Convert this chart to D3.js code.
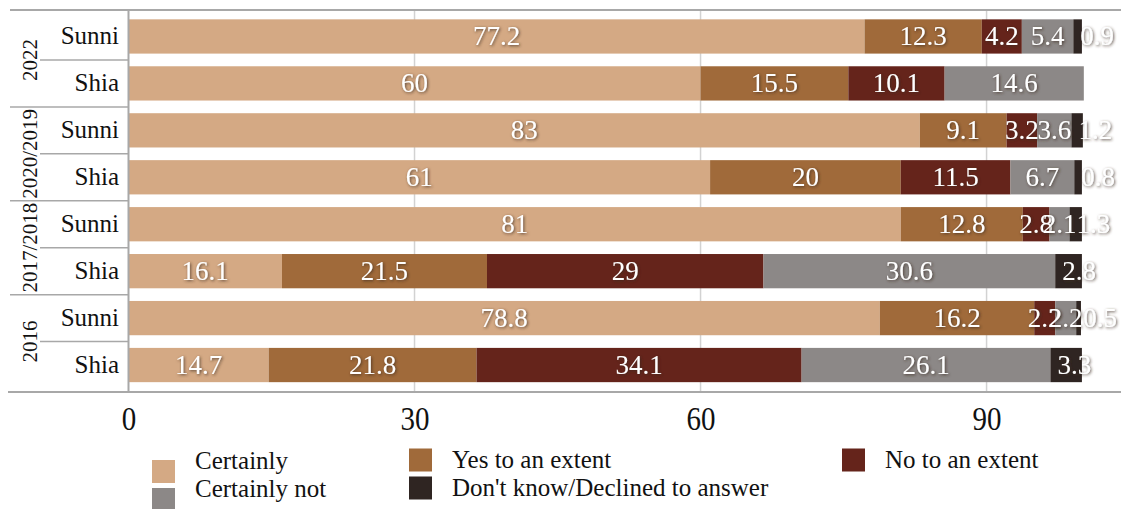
<!DOCTYPE html>
<html>
<head>
<meta charset="utf-8">
<script src="https://cdn.jsdelivr.net/npm/d3@7/dist/d3.min.js"></script>
<style>
  html, body { margin: 0; padding: 0; background: #fff; }
</style>
</head>
<body>
<svg id="chart" width="1121" height="509"></svg>
<script>
// Survey periods and respondent groups (top to bottom)
const periods = ["2022", "2020/2019", "2017/2018", "2016"];
const sects = ["Sunni", "Shia"];

// Answer categories, stacked left to right
const seriesNames = ["Certainly", "Yes to an extent", "No to an extent", "Certainly not", "Don't know/Declined to answer"];
const seriesColors = ["#d4a984", "#a06a3a", "#65241b", "#8c8887", "#2f2522"];

// Percentages per row: 2022 Sunni, 2022 Shia, 2020/2019 Sunni, ... 2016 Shia
const certainly    = [77.2, 60,   83,  61,   81,  16.1, 78.8, 14.7];
const yesExtent    = [12.3, 15.5, 9.1, 20,   12.8, 21.5, 16.2, 21.8];
const noExtent     = [4.2,  10.1, 3.2, 11.5, 2.8, 29,   2.2,  34.1];
const certainlyNot = [5.4,  14.6, 3.6, 6.7,  2.1, 30.6, 2.2,  26.1];
const dontKnow     = [0.9,  null, 1.2, 0.8,  1.3, 2.8,  0.5,  3.3];

const xTicks = [0, 30, 60, 90];

const seriesValues = [certainly, yesExtent, noExtent, certainlyNot, dontKnow];
const FONT = "Liberation Serif";

// Row keys
const rows = [];
periods.forEach(p => sects.forEach(s => rows.push(p + "|" + s)));

const svg = d3.select("#chart");

// Shadow behind the white value labels
const defs = svg.append("defs");
const f = defs.append("filter").attr("id", "lblShadow")
  .attr("x", "-30%").attr("y", "-30%").attr("width", "160%").attr("height", "160%");
f.append("feGaussianBlur").attr("in", "SourceAlpha").attr("stdDeviation", 1.7).attr("result", "b");
f.append("feOffset").attr("in", "b").attr("dx", 1).attr("dy", 1).attr("result", "o");
f.append("feFlood").attr("flood-color", "#3a2a20").attr("flood-opacity", 0.8);
f.append("feComposite").attr("in2", "o").attr("operator", "in").attr("result", "s");
const fm = f.append("feMerge");
fm.append("feMergeNode").attr("in", "s");
fm.append("feMergeNode").attr("in", "SourceGraphic");

const frameTop = 10, frameBottom = 392;
const plotLeft = 128.5;

const x = d3.scaleLinear().domain([0, 104.1]).range([plotLeft, 1121]);
const y = d3.scaleBand().domain(rows).range([13, 388.5]).paddingInner(0.27).paddingOuter(0.135);
const step = y.step();

// Vertical grid lines
svg.append("g").selectAll("line").data(xTicks.filter(t => t > 0)).join("line")
  .attr("x1", d => x(d)).attr("x2", d => x(d))
  .attr("y1", frameTop).attr("y2", frameBottom)
  .attr("stroke", "#d2d2d2").attr("stroke-width", 1.5);

// Stacked segments
const stacked = rows.map((r, i) => {
  let acc = 0;
  return seriesValues.map((vals, k) => {
    const v = vals[i];
    const seg = { row: r, k, v, x0: acc, x1: acc + (v || 0) };
    acc += (v || 0);
    return seg;
  });
});
const segs = stacked.flat().filter(d => d.v != null && d.v > 0);

svg.append("g").selectAll("rect").data(segs).join("rect")
  .attr("x", d => x(d.x0))
  .attr("y", d => y(d.row))
  .attr("width", d => x(d.x1) - x(d.x0))
  .attr("height", y.bandwidth())
  .attr("fill", d => seriesColors[d.k]);

// Frame lines
const frame = svg.append("g").attr("stroke", "#a8a8a8").attr("stroke-width", 2);
frame.append("line").attr("x1", 10).attr("x2", 1121).attr("y1", frameTop).attr("y2", frameTop);
frame.append("line").attr("x1", 8).attr("x2", 1121).attr("y1", frameBottom).attr("y2", frameBottom);
frame.append("line").attr("x1", plotLeft).attr("x2", plotLeft).attr("y1", frameTop).attr("y2", frameBottom);

// Dividers in the category label area
rows.forEach((r, i) => {
  if (i === 0) return;
  const yy = y(r) - step * y.paddingInner() / 2;
  const groupStart = i % sects.length === 0;
  frame.append("line")
    .attr("x1", groupStart ? 10 : 40).attr("x2", plotLeft)
    .attr("y1", yy).attr("y2", yy)
    .attr("stroke-width", 1.5);
});

// Value labels
svg.append("g").selectAll("text").data(segs).join("text")
  .attr("x", d => d.k === seriesNames.length - 1 ? x(d.x0) + 7 : (x(d.x0) + x(d.x1)) / 2)
  .attr("y", d => y(d.row) + y.bandwidth() / 2)
  .attr("dy", "0.33em")
  .attr("text-anchor", d => d.k === seriesNames.length - 1 ? "start" : "middle")
  .attr("font-family", FONT)
  .attr("font-size", 27)
  .attr("fill", "#fff")
  .attr("filter", "url(#lblShadow)")
  .text(d => d.v);

// Row labels
svg.append("g").selectAll("text").data(rows).join("text")
  .attr("x", 119)
  .attr("y", d => y(d) + y.bandwidth() / 2)
  .attr("dy", "0.3em")
  .attr("text-anchor", "end")
  .attr("font-family", FONT)
  .attr("font-size", 25)
  .attr("fill", "#111")
  .text(d => d.split("|")[1]);

// Period labels (rotated)
svg.append("g").selectAll("text").data(periods).join("text")
  .attr("transform", p => {
    const first = y(p + "|" + sects[0]);
    const last = y(p + "|" + sects[sects.length - 1]) + y.bandwidth();
    return `translate(37,${(first + last) / 2}) rotate(-90)`;
  })
  .attr("text-anchor", "middle")
  .attr("font-family", FONT)
  .attr("font-size", 21)
  .attr("fill", "#111")
  .text(d => d);

// X axis tick labels (slightly tall glyphs)
const xAxis = d3.axisBottom(x).tickValues(xTicks).tickSize(0).tickPadding(0).tickFormat(d3.format("d"));
const ax = svg.append("g").attr("transform", `translate(0,${frameBottom})`).call(xAxis)
  .attr("font-family", FONT);
ax.select(".domain").remove();
ax.selectAll("text")
  .attr("y", (430.5 - frameBottom) / 1.15)
  .attr("dy", 0)
  .attr("transform", "scale(1,1.15)")
  .attr("font-size", 29)
  .attr("font-family", FONT)
  .attr("fill", "#111");

// Legend
const legendCols = [152, 409, 842];
const legendBase = [469, 497];
const legendItems = [
  { k: 0, col: 0, row: 0 }, { k: 1, col: 1, row: 0 }, { k: 2, col: 2, row: 0 },
  { k: 3, col: 0, row: 1 }, { k: 4, col: 1, row: 1 }
];
const lg = svg.append("g");
legendItems.forEach(it => {
  const base = legendBase[it.row] - (it.col > 0 ? 1 : 0);
  const top = it.col === 0 ? base - 9 : base - 19.5;
  lg.append("rect")
    .attr("x", legendCols[it.col]).attr("y", top)
    .attr("width", 23).attr("height", 23)
    .attr("fill", seriesColors[it.k]);
  lg.append("text")
    .attr("x", legendCols[it.col] + 43)
    .attr("y", base)
    .attr("font-family", FONT)
    .attr("font-size", 25)
    .attr("fill", "#111")
    .text(seriesNames[it.k]);
});
</script>
</body>
</html>
